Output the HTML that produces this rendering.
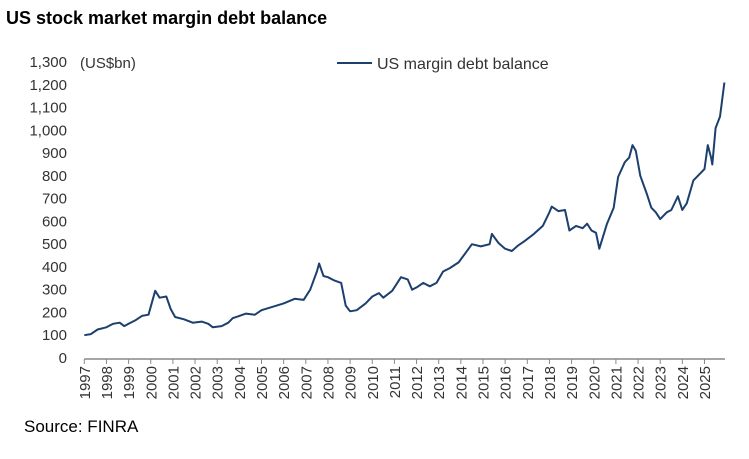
<!DOCTYPE html>
<html><head><meta charset="utf-8"><style>
body{margin:0;background:#fff;width:749px;height:454px;overflow:hidden;font-family:"Liberation Sans",sans-serif;}
</style></head><body>
<svg width="749" height="454">
<text x="6" y="24" font-size="18" font-weight="bold" fill="#000">US stock market margin debt balance</text>
<text x="80" y="68" font-size="15" fill="#333">(US$bn)</text>
<g id="yaxis"></g>
<g id="xaxis"></g>
<g>
<line x1="337" y1="63" x2="372" y2="63" stroke="#1c3f6e" stroke-width="2"/>
<text x="377" y="69" font-size="16" fill="#333">US margin debt balance</text>
</g>
<path id="series" fill="none" stroke="#1c3f6e" stroke-width="2" stroke-linejoin="round"/>
<text x="24" y="432" font-size="17" fill="#000">Source: FINRA</text>
</svg>
<script>
const yTicks=[0,100,200,300,400,500,600,700,800,900,1000,1100,1200,1300];
const yearLabels=[1997,1998,1999,2000,2001,2002,2003,2004,2005,2006,2007,2008,2009,2010,2011,2012,2013,2014,2015,2016,2017,2018,2019,2020,2021,2022,2023,2024,2025];
const dates=[1997.0,1997.3,1997.6,1998.0,1998.3,1998.6,1998.8,1999.0,1999.3,1999.6,1999.9,2000.2,2000.4,2000.7,2000.9,2001.1,2001.5,2001.9,2002.3,2002.6,2002.8,2003.2,2003.5,2003.7,2004.0,2004.3,2004.7,2005.0,2005.5,2006.0,2006.5,2006.9,2007.2,2007.5,2007.6,2007.8,2008.0,2008.3,2008.6,2008.8,2009.0,2009.3,2009.7,2010.0,2010.3,2010.5,2010.9,2011.3,2011.6,2011.8,2012.0,2012.3,2012.6,2012.9,2013.2,2013.5,2013.9,2014.2,2014.5,2014.9,2015.3,2015.4,2015.7,2016.0,2016.3,2016.6,2016.9,2017.3,2017.7,2018.0,2018.1,2018.4,2018.7,2018.9,2019.2,2019.5,2019.7,2019.9,2020.1,2020.25,2020.6,2020.9,2021.1,2021.4,2021.6,2021.75,2021.9,2022.1,2022.4,2022.6,2022.8,2023.0,2023.3,2023.5,2023.8,2024.0,2024.2,2024.5,2024.8,2025.0,2025.15,2025.3,2025.35,2025.5,2025.7,2025.9];
const values=[100,105,125,135,150,155,140,150,165,185,190,295,265,270,215,180,170,155,160,150,135,140,155,175,185,195,190,210,225,240,260,255,300,380,415,360,355,340,330,230,205,210,240,270,285,265,295,355,345,300,310,330,315,330,380,395,420,460,500,490,500,545,505,480,470,495,515,545,580,640,665,645,650,560,580,570,590,560,550,480,590,660,795,860,880,935,910,800,720,660,640,610,640,650,710,650,680,780,810,830,935,880,850,1010,1060,1210];
const NS="http://www.w3.org/2000/svg";
const x0=84.3,pxYear=22.15,y0=358,pxUnit=22.77/100;
function X(d){return x0+(d-1997)*pxYear;}
function Y(v){return y0-v*pxUnit;}
const ya=document.getElementById('yaxis');
yTicks.forEach(v=>{const t=document.createElementNS(NS,'text');


t.setAttribute('x',67);t.setAttribute('y',Y(v)+5);t.setAttribute('text-anchor','end');t.setAttribute('font-size','15');t.setAttribute('fill','#333');
t.textContent=v.toLocaleString('en-US');ya.appendChild(t);});
const xa=document.getElementById('xaxis');
const ax=document.createElementNS(NS,'line');


ax.setAttribute('x1',X(1997));ax.setAttribute('x2',725);ax.setAttribute('y1',y0+1);ax.setAttribute('y2',y0+1);ax.setAttribute('stroke','#888');ax.setAttribute('stroke-width','1.5');xa.appendChild(ax);
yearLabels.forEach(yr=>{const x=X(yr);
const tk=document.createElementNS(NS,'line');


tk.setAttribute('x1',x);tk.setAttribute('x2',x);tk.setAttribute('y1',y0+1);tk.setAttribute('y2',y0+6);tk.setAttribute('stroke','#888');xa.appendChild(tk);
const t=document.createElementNS(NS,'text');


t.setAttribute('transform','translate('+(x+5.5)+','+(y0+8)+') rotate(-90)');t.setAttribute('text-anchor','end');t.setAttribute('font-size','15');t.setAttribute('fill','#333');
t.textContent=yr;xa.appendChild(t);});
document.getElementById('series').setAttribute('d',dates.map((d,i)=>(i?'L':'M')+X(d).toFixed(1)+','+Y(values[i]).toFixed(1)).join(''));
</script>
</body></html>
